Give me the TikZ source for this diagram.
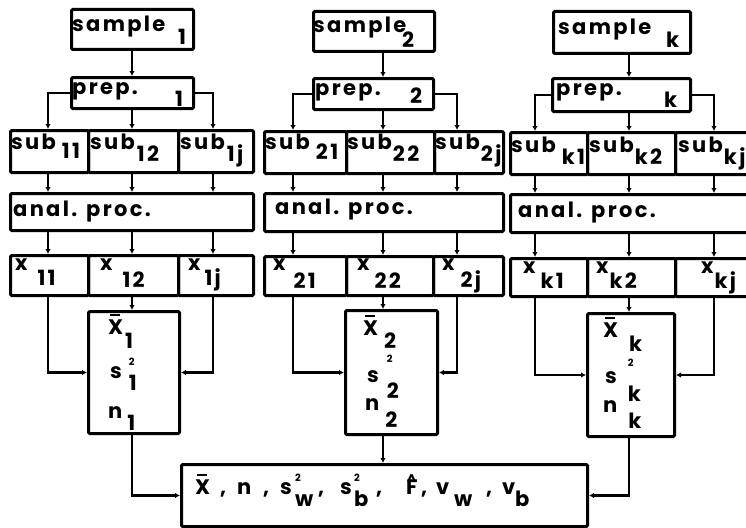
\documentclass[tikz,border=0pt]{standalone}
\usepackage{fontspec}
\setmainfont{Poppins}[LetterSpace=11]
\usetikzlibrary{arrows.meta}

% box given by its corners (x1,y1) (x2,y2)
\newcommand\bx[5]{\node[cell, minimum width={(#4-#2)*1pt}, minimum height={(#5-#3)*1pt}, anchor=north west] (#1) at (#2,#3) {};}
% text on a baseline: main part, a gap, then the lowered index
\newcommand\lab[5]{\node[txt] (#1) at (#2,#3) {#4#5};}
% same, with the main part set in a box of fixed width
\newcommand\labw[6]{\node[txt] (#1) at (#2,#3) {\makebox[#4pt][l]{#5}#6};}
\newcommand\dn[2]{\lower#1pt\hbox{#2}}
\newcommand\up[2]{\rlap{\raise#1pt\hbox{\fontsize{10}{10}\selectfont #2}}}
\newcommand\g[1]{\kern#1pt}
\newcommand\pc[2]{\makebox[#1pt][l]{#2}}
% X with a bar, F with a hat
\newcommand\xb{\rlap{\kern2pt\raise18.5pt\hbox{\vrule width 10pt height 2pt}}X}
\newcommand\fh{\rlap{\kern0.5pt\raise10pt\hbox{\fontsize{14}{14}\selectfont\char"5E}}F}

\begin{document}
\begin{tikzpicture}[x=1pt,y=-1pt,
  cell/.style={draw, line width=3pt, rounded corners=1.2pt, inner sep=0pt},
  txt/.style={anchor=base west, inner sep=0pt, font=\fontsize{21}{21}\selectfont\bfseries},
  arr/.style={line width=2.4pt, -{Latex[length=5pt,width=5.5pt]}}]
\useasboundingbox (0,0) rectangle (746,527);
\clip (0,0) rectangle (746,527);

% branch columns
\coordinate (l1) at (48,0);  \coordinate (c1) at (132,0); \coordinate (r1) at (213,0);
\coordinate (l2) at (293,0); \coordinate (c2) at (383,0); \coordinate (r2) at (457,0);
\coordinate (l3) at (535,0); \coordinate (c3) at (629,0); \coordinate (r3) at (714,0);

% ---------- column 1
\bx{s1}{70}{8}{192}{48}
\bx{p1}{70}{76}{192}{107}
\bx{u11}{9}{129}{87}{171} \bx{u12}{87}{129}{177}{171} \bx{u1j}{177}{129}{252}{171}
\bx{a1}{9}{192}{252}{229}
\bx{x11}{9}{254}{87}{294} \bx{x12}{87}{254}{177}{294} \bx{x1j}{177}{254}{252}{294}
\bx{st1}{87}{310}{178}{432}

% ---------- column 2
\bx{s2}{312}{10}{433}{50}
\bx{p2}{312}{77}{432}{108}
\bx{u21}{263}{130}{345}{172} \bx{u22}{345}{130}{433}{172} \bx{u2j}{433}{130}{502}{172}
\bx{a2}{263}{192}{502}{230}
\bx{x21}{263}{255}{345}{294} \bx{x22}{345}{255}{432}{294} \bx{x2j}{432}{255}{502}{294}
\bx{st2}{344}{309}{436}{433}

% ---------- column k
\bx{s3}{552}{10}{689}{52}
\bx{p3}{551}{77}{689}{110}
\bx{u31}{509}{131}{586}{173} \bx{u32}{586}{131}{674}{173} \bx{u3j}{674}{131}{752}{173}
\bx{a3}{509}{193}{752}{231}
\bx{x31}{509}{257}{586}{295} \bx{x32}{586}{257}{674}{295} \bx{x3j}{674}{257}{752}{295}
\bx{st3}{586}{312}{673}{435}

% ---------- pooled results
\bx{fin}{180}{463}{586}{525}

% ---------- texts, column 1
\labw{s1t}{72}{32}{106}{sample}{\dn{13}{1}}
\labw{p1t}{72}{94}{103}{prep.}{\dn{12}{1}}
\lab{u11t}{11}{149}{sub}{\g{6}\dn{9}{11}}
\lab{u12t}{90}{149}{sub}{\g{2}\dn{12}{12}}
\lab{u1jt}{180}{149}{sub}{\g{2}\dn{12}{1j}}
\lab{a1t}{13}{216}{anal. proc.}{}
\lab{x11t}{15}{270}{x}{\g{10}\dn{15}{11}}
\lab{x12t}{100}{270}{x}{\g{10}\dn{17}{12}}
\lab{x1jt}{188}{270}{x}{\g{4}\dn{15}{1j}}
\lab{st1x}{108}{334}{\xb}{\g{2}\dn{14}{1}}
\lab{st1s}{110}{378}{s}{\g{7}\up{13}{2}\dn{12}{1}}
\lab{st1n}{108}{418}{n}{\g{5}\dn{12}{1}}

% ---------- texts, column 2
\labw{s2t}{313}{33}{89}{sample}{\dn{15}{2}}
\labw{p2t}{315}{95}{95}{prep.}{\dn{8}{2}}
\lab{u21t}{265}{149}{sub}{\g{6}\dn{10}{21}}
\lab{u22t}{347}{149}{sub}{\g{1}\dn{12}{22}}
\lab{u2jt}{435}{149}{sub}{\g{1}\dn{12}{2j}}
\lab{a2t}{275}{214}{anal. proc.}{}
\lab{x21t}{273}{270}{x}{\g{8}\dn{18}{21}}
\lab{x22t}{357}{270}{x}{\g{5}\dn{18}{22}}
\lab{x2jt}{442}{270}{x}{\g{6}\dn{17}{2j}}
\lab{st2x}{363}{335}{\xb}{\g{6}\dn{13}{2}}
\lab{st2s}{367}{382}{s}{\g{8}\up{20}{2}\dn{16}{2}}
\lab{st2n}{365}{410}{n}{\g{6}\dn{17}{2}}

% ---------- texts, column k
\labw{s3t}{558}{35}{108}{sample}{\dn{13}{k}}
\labw{p3t}{556}{95}{108}{prep.}{\dn{13}{k}}
\lab{u31t}{511}{152}{sub}{\g{6}\dn{12}{k1}}
\lab{u32t}{589}{152}{sub}{\g{1}\dn{12}{k2}}
\lab{u3jt}{678}{152}{sub}{\g{1}\dn{12}{kj}}
\lab{a3t}{518}{217}{anal. proc.}{}
\lab{x31t}{523}{273}{x}{\g{5}\dn{15}{k1}}
\lab{x32t}{596}{273}{x}{\g{1}\dn{15}{k2}}
\lab{x3jt}{701}{273}{x}{\g{1}\dn{15}{kj}}
\lab{st3x}{603}{337}{\xb}{\g{11}\dn{14}{k}}
\lab{st3s}{605}{383}{s}{\g{11}\up{17}{2}\dn{18}{k}}
\lab{st3n}{603}{412}{n}{\g{11}\dn{16}{k}}

% ---------- pooled text, each piece in a box of fixed width
\node[txt] (fint) at (195,494) {\pc{25}{\xb}\pc{17}{,}\pc{26}{n}\pc{17}{,}%
  \pc{15}{s}\pc{23}{\up{13}{2}\dn{12}{w}}\pc{22}{,}%
  \pc{14}{s}\pc{22}{\up{13}{2}\dn{12}{b}}\pc{30}{,}%
  \pc{15}{\fh}\pc{15}{,}%
  \pc{18}{v}\pc{32}{\dn{12}{w}}\pc{16}{,}%
  \pc{13}{v}\dn{12}{b}};

% ---------- connectors, one column at a time
\foreach \i/\u/\v/\w/\x/\y/\z in {1/u11/u12/u1j/x11/x12/x1j, 2/u21/u22/u2j/x21/x22/x2j, 3/u31/u32/u3j/x31/x32/x3j}{
  \draw[arr] (c\i |- s\i.south) -- (c\i |- p\i.north);
  \draw[arr] (p\i.west) -| (l\i |- \u.north);
  \draw[arr] (c\i |- p\i.south) -- (c\i |- \v.north);
  \draw[arr] (p\i.east) -| (r\i |- \w.north);
  \draw[arr] (l\i |- \u.south) -- (l\i |- a\i.north);
  \draw[arr] (c\i |- \v.south) -- (c\i |- a\i.north);
  \draw[arr] (r\i |- \w.south) -- (r\i |- a\i.north);
  \draw[arr] (l\i |- a\i.south) -- (l\i |- \x.north);
  \draw[arr] (c\i |- a\i.south) -- (c\i |- \y.north);
  \draw[arr] (r\i |- a\i.south) -- (r\i |- \z.north);
  \draw[arr] (c\i |- \y.south) -- (c\i |- st\i.north);
  \draw[arr] (l\i |- \x.south) |- (st\i.west);
  \draw[arr] (r\i |- \z.south) |- (st\i.east);
}
\draw[arr] (c1 |- st1.south) |- (fin.west);
\draw[arr] (c2 |- st2.south) -- (c2 |- fin.north);
\draw[arr] (c3 |- st3.south) |- (fin.east);
\end{tikzpicture}
\end{document}
